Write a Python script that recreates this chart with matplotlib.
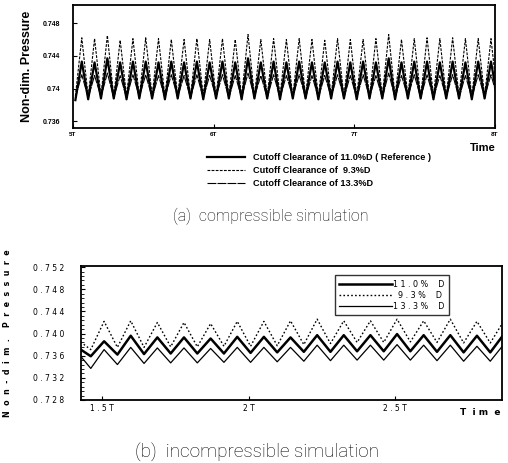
import numpy as np
import matplotlib
matplotlib.use("Agg")
import matplotlib.pyplot as plt
from matplotlib.ticker import MultipleLocator

# ---------------- data: (a) compressible simulation ----------------
# half-period sample grid: trough, peak, trough, ... (11 blade passings per T)
t_a_start = 5.017
half_a = 1.0 / 22
a_peak_110 = [0.7433, 0.7432, 0.7437, 0.7432, 0.7433, 0.7433, 0.7432, 0.7433, 0.7432, 0.7433, 0.7432,
              0.7433, 0.7432, 0.7437, 0.7432, 0.7433, 0.7432, 0.7433, 0.7432, 0.7432, 0.7433, 0.7432,
              0.7433, 0.7432, 0.7437, 0.7432, 0.7433, 0.7433, 0.7432, 0.7433, 0.7432, 0.7433, 0.7433]
a_trough_110 = [0.7386, 0.7387, 0.7388, 0.7388, 0.7387, 0.7388, 0.7388, 0.7387, 0.7388, 0.7388, 0.7387,
                0.7388, 0.7388, 0.7387, 0.7388, 0.7388, 0.7387, 0.7388, 0.7388, 0.7387, 0.7388, 0.7388,
                0.7387, 0.7388, 0.7388, 0.7387, 0.7388, 0.7388, 0.7387, 0.7388, 0.7388, 0.7387, 0.7388, 0.7388]
a_peak_093 = [0.7462, 0.7461, 0.7465, 0.7459, 0.7461, 0.7462, 0.7461, 0.7460, 0.7460, 0.7461, 0.7460,
              0.7461, 0.7460, 0.7466, 0.7460, 0.7461, 0.7460, 0.7461, 0.7460, 0.7459, 0.7461, 0.7460,
              0.7460, 0.7461, 0.7466, 0.7460, 0.7461, 0.7462, 0.7461, 0.7462, 0.7461, 0.7461, 0.7461]
a_trough_093 = [0.7391, 0.7390, 0.7391, 0.7390, 0.7391, 0.7390, 0.7391, 0.7390, 0.7391, 0.7390, 0.7391,
                0.7390, 0.7391, 0.7390, 0.7391, 0.7390, 0.7391, 0.7390, 0.7391, 0.7390, 0.7391, 0.7390,
                0.7391, 0.7390, 0.7391, 0.7390, 0.7391, 0.7390, 0.7391, 0.7390, 0.7391, 0.7390, 0.7391, 0.7390]
a_peak_133 = [0.7417, 0.7416, 0.7419, 0.7416, 0.7417, 0.7417, 0.7416, 0.7417, 0.7416, 0.7417, 0.7416,
              0.7417, 0.7416, 0.7419, 0.7416, 0.7417, 0.7416, 0.7417, 0.7416, 0.7416, 0.7417, 0.7416,
              0.7417, 0.7416, 0.7419, 0.7416, 0.7417, 0.7417, 0.7416, 0.7417, 0.7416, 0.7417, 0.7417]
a_trough_133 = [0.7389, 0.7389, 0.7390, 0.7389, 0.7389, 0.7390, 0.7389, 0.7389, 0.7390, 0.7389, 0.7389,
                0.7390, 0.7389, 0.7389, 0.7390, 0.7389, 0.7389, 0.7390, 0.7389, 0.7389, 0.7390, 0.7389,
                0.7389, 0.7390, 0.7389, 0.7389, 0.7390, 0.7389, 0.7389, 0.7390, 0.7389, 0.7389, 0.7390, 0.7389]
a_xticks = [5, 6, 7, 8]
a_xticklabels = ["5T", "6T", "7T", "8T"]
a_yticks = [0.736, 0.740, 0.744, 0.748]
a_yticklabels = ["0.736", "0.74", "0.744", "0.748"]
a_labels = ["Cutoff Clearance of 11.0%D ( Reference )",
            "Cutoff Clearance of  9.3%D",
            "Cutoff Clearance of 13.3%D"]

# ---------------- data: (b) incompressible simulation ----------------
# half-period grid: peak, trough, peak, ...
t_b_start = 1.416
half_b = 1.0 / 22
b_peak_110 = [0.7375, 0.7386, 0.7396, 0.7393, 0.7393, 0.7391, 0.7394, 0.7394, 0.7393,
              0.7397, 0.7397, 0.7397, 0.7399, 0.7397, 0.7397, 0.7396, 0.7398]
b_trough_110 = [0.7359, 0.7362, 0.7363, 0.7364, 0.7364, 0.7364, 0.7365, 0.7366,
                0.7367, 0.7367, 0.7368, 0.7368, 0.7368, 0.7367, 0.7366, 0.7366]
b_peak_093 = [0.7389, 0.7422, 0.7423, 0.7420, 0.7420, 0.7418, 0.7422, 0.7422, 0.7423,
              0.7426, 0.7423, 0.7423, 0.7426, 0.7423, 0.7426, 0.7422, 0.7422]
b_trough_093 = [0.7371, 0.7375, 0.7375, 0.7376, 0.7376, 0.7377, 0.7377, 0.7378,
                0.7380, 0.7382, 0.7384, 0.7384, 0.7385, 0.7384, 0.7383, 0.7383]
b_peak_133 = [0.7366, 0.7371, 0.7375, 0.7374, 0.7374, 0.7373, 0.7375, 0.7375, 0.7375,
              0.7379, 0.7379, 0.7379, 0.7380, 0.7379, 0.7379, 0.7377, 0.7380]
b_trough_133 = [0.7337, 0.7344, 0.7346, 0.7347, 0.7347, 0.7348, 0.7348, 0.7349,
                0.7350, 0.7351, 0.7352, 0.7352, 0.7352, 0.7351, 0.7350, 0.7350]
b_xticks = [1.5, 2.0, 2.5]
b_xticklabels = ["1 . 5 T", "2 T", "2 . 5 T"]
b_yticks = [0.728, 0.732, 0.736, 0.740, 0.744, 0.748, 0.752]
b_yticklabels = ["0 . 7 2 8", "0 . 7 3 2", "0 . 7 3 6", "0 . 7 4 0", "0 . 7 4 4", "0 . 7 4 8", "0 . 7 5 2"]
b_labels = ["1 1 . 0 %    D", "  9 . 3 %    D", "1 3 . 3 %    D"]


def interleave(first, second):
    out = np.empty(len(first) + len(second))
    out[0::2] = first
    out[1::2] = second
    return out


fig = plt.figure(figsize=(5.08, 4.63), dpi=100)
bold = dict(family="Liberation Sans", weight="bold")

# ---- panel (a)
ax1 = fig.add_axes([0.1437, 0.7235, 0.8307, 0.2657])
n_a = len(a_trough_110) + len(a_peak_110)
t_a = t_a_start + half_a * np.arange(n_a)
ax1.plot(t_a, interleave(a_trough_110, a_peak_110), color="black", lw=1.6, label=a_labels[0])
ax1.plot(t_a, interleave(a_trough_093, a_peak_093), color="black", lw=0.8, dashes=(2.5, 1.2), label=a_labels[1])
ax1.plot(t_a, interleave(a_trough_133, a_peak_133), color="black", lw=0.8, dashes=(8, 1), label=a_labels[2])
ax1.set_xlim(5, 8)
ax1.set_ylim(0.7352, 0.7502)
ax1.set_xticks(a_xticks)
ax1.set_xticklabels(a_xticklabels, fontsize=4.5, **bold)
ax1.set_yticks(a_yticks)
ax1.set_yticklabels(a_yticklabels, fontsize=5, **bold)
ax1.tick_params(direction="in", length=3, width=0.8, pad=9)
ax1.tick_params(axis="x", pad=3)
for s in ax1.spines.values():
    s.set_linewidth(1.3)
ax1.set_ylabel("Non-dim. Pressure", fontsize=9, labelpad=7, **bold)
fig.text(0.975, 0.68, "Time", ha="right", va="center", fontsize=8, **bold)
ax1.legend(loc="upper left", bbox_to_anchor=(0.40, 0.678), bbox_transform=fig.transFigure,
           frameon=False, handlelength=4.2, handletextpad=0.8, labelspacing=0.45,
           borderaxespad=0, prop=dict(size=6.6, **bold))
fig.text(0.534, 0.533, "(a)  compressible simulation", ha="center", va="center",
         fontsize=11.5, family="Roboto", weight="light")

# ---- panel (b)
ax2 = fig.add_axes([0.1594, 0.1361, 0.8287, 0.2894])
n_b = len(b_peak_110) + len(b_trough_110)
t_b = t_b_start + half_b * np.arange(n_b)
ax2.plot(t_b, interleave(b_peak_110, b_trough_110), color="black", lw=1.8, label=b_labels[0])
ax2.plot(t_b, interleave(b_peak_093, b_trough_093), color="black", lw=1.0, ls=(0, (1.2, 1.6)), label=b_labels[1])
ax2.plot(t_b, interleave(b_peak_133, b_trough_133), color="black", lw=0.9, label=b_labels[2])
ax2.set_xlim(1.428, 2.865)
ax2.set_ylim(0.728, 0.7522)
ax2.set_xticks(b_xticks)
ax2.set_xticklabels(b_xticklabels, fontsize=5.5, family="DejaVu Sans")
ax2.set_yticks(b_yticks)
ax2.set_yticklabels(b_yticklabels, fontsize=5.5, family="DejaVu Sans")
ax2.yaxis.set_minor_locator(MultipleLocator(0.0008))
ax2.tick_params(direction="in", length=3, width=0.8, pad=12)
ax2.tick_params(axis="y", which="minor", direction="in", length=2, width=0.6)
ax2.tick_params(axis="x", pad=3)
for s in ax2.spines.values():
    s.set_linewidth(1.3)
fig.text(0.014, 0.28, "N  o  n  -  d  i  m  .    P  r  e  s  s  u  r  e", rotation=90,
         ha="center", va="center", fontsize=5.7, weight="bold")
fig.text(0.905, 0.108, "T  i m  e", ha="left", va="center", fontsize=6.5, weight="bold")
leg = ax2.legend(loc="upper right", bbox_to_anchor=(0.892, 0.414), bbox_transform=fig.transFigure,
                 frameon=True, fancybox=False, handlelength=6.5, handletextpad=0.2,
                 labelspacing=0.25, borderpad=0.55, prop=dict(size=5.8, family="DejaVu Sans"))
leg.get_frame().set_edgecolor("black")
leg.get_frame().set_linewidth(1.0)
fig.text(0.506, 0.022, "(b)  incompressible simulation", ha="center", va="center",
         fontsize=13.6, family="Roboto", weight="light")

fig.savefig("out.png", dpi=100)
